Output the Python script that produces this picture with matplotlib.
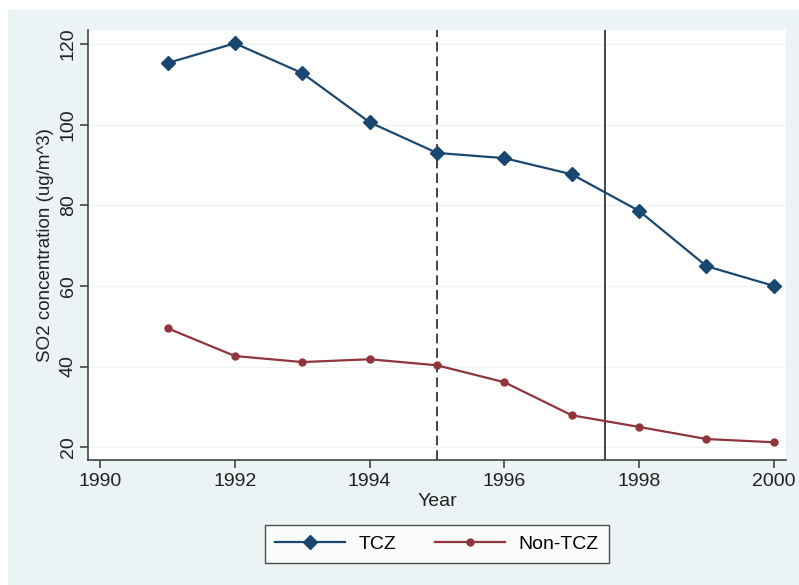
import matplotlib
matplotlib.use("Agg")
from matplotlib import pyplot as plt
from matplotlib.patches import Rectangle

# data
years = [1991, 1992, 1993, 1994, 1995, 1996, 1997, 1998, 1999, 2000]
tcz = [115.3, 120.2, 112.8, 100.6, 93.0, 91.7, 87.7, 78.6, 64.9, 60.0]
non_tcz = [49.5, 42.6, 41.1, 41.8, 40.3, 36.1, 27.9, 25.0, 22.0, 21.2]
x_ticks = [1990, 1992, 1994, 1996, 1998, 2000]
y_ticks = [20, 40, 60, 80, 100, 120]
policy_years = [1995, 1997.5]

plt.rcParams['font.family'] = ['Liberation Sans', 'DejaVu Sans']

fig = plt.figure(figsize=(7.99, 5.85), dpi=100)
# stata style light background
fig.patches.append(Rectangle((8/799, 0), 1, 1 - 10/585, transform=fig.transFigure,
                             color='#ebf3f4', zorder=-10))

ax = fig.add_axes([88/799, 125/585, 698/799, 430/585])
ax.set_facecolor('white')

for y in y_ticks:
    ax.axhline(y, color='#eef3f3', lw=1, zorder=0)

ax.axvline(policy_years[0], color='#444444', lw=1.4, ls=(0, (5, 2.5)), zorder=1)
ax.axvline(policy_years[1], color='#444444', lw=1.4, zorder=1)

ax.plot(years, tcz, color='#1a476f', lw=1.6, marker='D', ms=7.5, label='TCZ', zorder=3)
ax.plot(years, non_tcz, color='#90353b', lw=1.6, marker='o', ms=5, label='Non-TCZ', zorder=3)

ax.set_xlim(1989.82, 2000.18)
ax.set_ylim(16.8, 123.5)
ax.set_xticks(x_ticks)
ax.set_yticks(y_ticks)
ax.set_yticklabels([str(v) for v in y_ticks], rotation=90, va='center')

for s in ['top', 'right']:
    ax.spines[s].set_visible(False)
for s in ['left', 'bottom']:
    ax.spines[s].set_color('#444444')
    ax.spines[s].set_linewidth(1.2)
ax.tick_params(colors='#444444', labelcolor='#222222', labelsize=14, length=6, width=1.2)
ax.tick_params(axis='y', pad=2)

ax.set_xlabel('Year', fontsize=14, color='#222222', labelpad=2)
ax.set_ylabel('SO2 concentration (ug/m^3)', fontsize=13.5, color='#222222', labelpad=4)

leg = fig.legend(loc='center', bbox_to_anchor=(437/799, 1 - 544/585), ncol=2,
                 fontsize=14, frameon=True, fancybox=False, handlelength=3.6,
                 handletextpad=0.7, columnspacing=2.0, borderpad=0.5)
leg.get_frame().set_edgecolor('#222222')
leg.get_frame().set_linewidth(1)

plt.savefig('out.png', dpi=100)
